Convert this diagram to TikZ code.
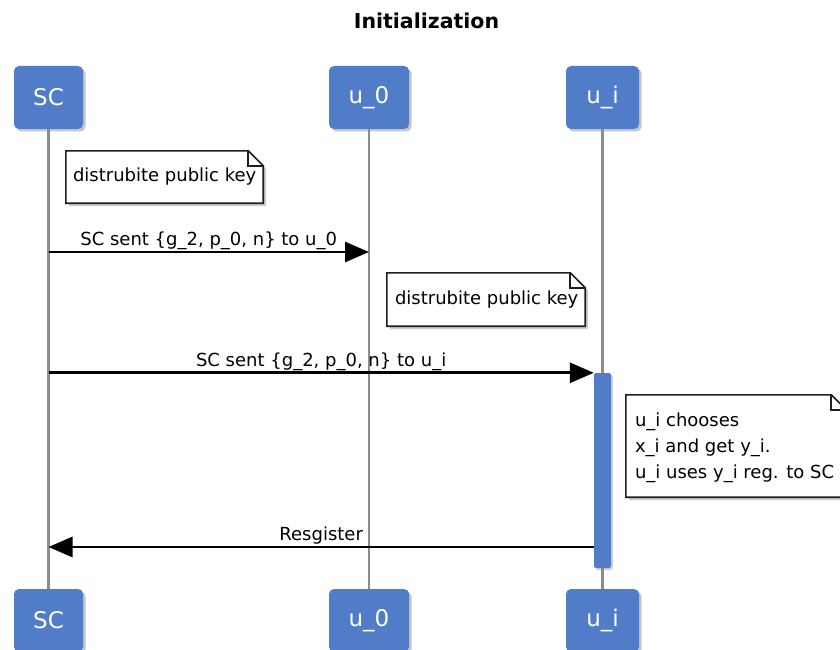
\documentclass[tikz,border=0pt]{standalone}
\usepackage{fontspec}
\setmainfont{DejaVu Sans}
\usetikzlibrary{arrows.meta,shadows}
\definecolor{partblue}{RGB}{80,124,200}
\definecolor{lifegray}{RGB}{140,140,140}
\definecolor{noteedge}{RGB}{30,30,30}
\tikzset{
  part/.style={fill=partblue, rounded corners=5pt, text=white,
    font=\fontsize{23}{28}\selectfont, minimum height=63pt, inner sep=0pt,
    drop shadow={shadow xshift=2.5pt, shadow yshift=-2.5pt, opacity=0.45}},
  life/.style={draw=lifegray, line width=2.4pt},
  notebox/.style={inner sep=0pt},
  notetext/.style={inner sep=0pt, align=left, anchor=west,
    font=\fontsize{18}{26}\selectfont},
  noteline/.style={draw=noteedge, line width=1.6pt, fill=white},
  msg/.style={draw=black, line width=2.8pt, -{Triangle[length=24pt,width=20pt]}},
  lbl/.style={font=\fontsize{18}{22}\selectfont, inner sep=0pt, anchor=base, yshift=6.5pt},
  actbar/.style={fill=partblue, rounded corners=2pt, minimum width=17pt,
    minimum height=195pt, inner sep=0pt,
    drop shadow={shadow xshift=2pt, shadow yshift=-2pt, opacity=0.35}},
  titlefont/.style={font=\fontsize{20.5}{24}\selectfont\bfseries}
}
\newcommand\dogearnote[1]{%
  \draw[noteline, drop shadow={shadow xshift=3pt, shadow yshift=-3pt, opacity=0.4}]
    (#1.north west) -- ([xshift=-15pt]#1.north east) -- ([yshift=-15pt]#1.north east)
    -- (#1.south east) -- (#1.south west) -- cycle;
  \draw[noteline, fill=none] ([xshift=-15pt]#1.north east)
    -- ([xshift=-15pt,yshift=-15pt]#1.north east) -- ([yshift=-15pt]#1.north east);
}
\begin{document}
\begin{tikzpicture}[x=1pt,y=-1pt]
\useasboundingbox[fill=white] (0,0) rectangle (840,650);

\node[titlefont] (title) at (426.5,21) {Initialization};

% participants
\node[part, minimum width=69pt] (sc1) at (48.5,97.5) {SC};
\node[part, minimum width=80pt] (uz1) at (369,97.5) {u\_0};
\node[part, minimum width=73pt] (ui1) at (602.5,97.5) {u\_i};
\node[part, minimum width=69pt] (sc2) at (48.5,620.5) {SC};
\node[part, minimum width=80pt] (uz2) at (369,620.5) {u\_0};
\node[part, minimum width=73pt] (ui2) at (602.5,620.5) {u\_i};

% lifelines
\draw[life] (sc1) -- (sc2);
\draw[life] (uz1) -- (uz2);
\draw[life] (ui1) -- (ui2);

% activation bar
\node[actbar] (act) at (602.5,470.5) {};

% note 1
\node[notebox, minimum width=197pt, minimum height=52pt] (n1) at (164.5,177) {};
\dogearnote{n1}
\node[notetext] (n1t) at ([xshift=7pt]n1.west) {distrubite public key};

% message 1
\coordinate (m1s) at (sc1.south |- 0,252);
\coordinate (m1e) at (uz1.south |- 0,252);
\draw[msg] (m1s) -- node[lbl] (l1) {SC sent \{g\_2, p\_0, n\} to u\_0} (m1e);

% note 2
\node[notebox, minimum width=198pt, minimum height=53pt] (n2) at (486,299.5) {};
\dogearnote{n2}
\node[notetext] (n2t) at ([xshift=8pt]n2.west) {distrubite public key};

% message 2
\coordinate (m2s) at (sc1.south |- act.north);
\draw[msg] (m2s) -- node[lbl] (l2) {SC sent \{g\_2, p\_0, n\} to u\_i} (act.north west);

% note 3
\node[notebox, minimum width=220pt, minimum height=102pt] (n3) at (736,446) {};
\dogearnote{n3}
\node[notetext] (n3t) at ([xshift=9pt,yshift=-2pt]n3.west) {u\_i chooses\\x\_i and get y\_i.\\u\_i uses y\_i reg. to SC};

% message 3
\coordinate (m3s) at (act.west |- 0,547);
\coordinate (m3e) at (sc1.south |- 0,547);
\draw[msg] (m3s) -- node[lbl] (l3) {Resgister} (m3e);
\end{tikzpicture}
\end{document}
